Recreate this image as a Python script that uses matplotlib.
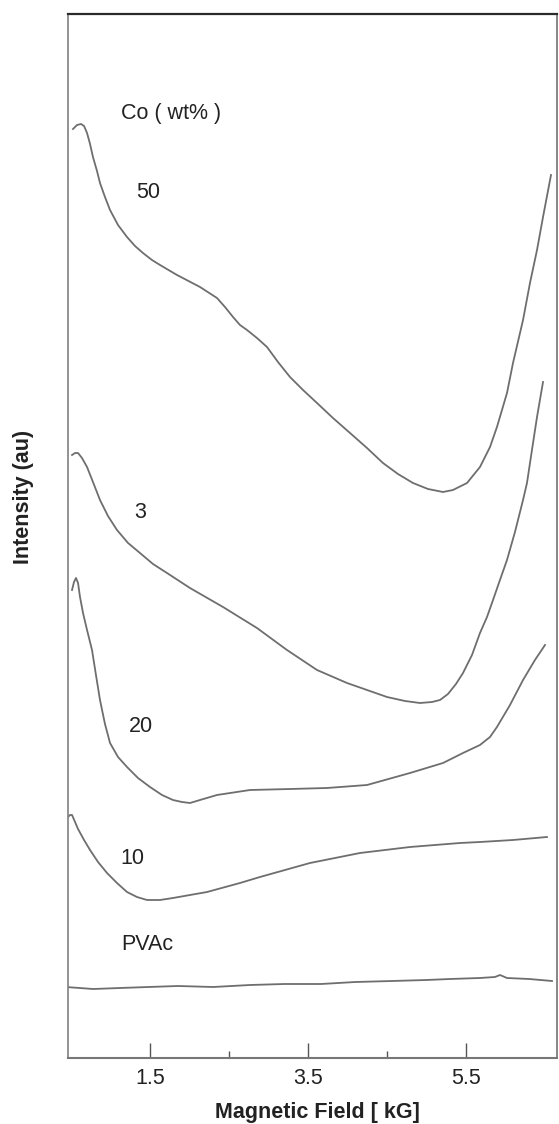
import matplotlib
matplotlib.use("Agg")
import matplotlib.pyplot as plt
from matplotlib.ticker import FixedLocator

plt.rcParams["font.family"] = ["Liberation Sans", "DejaVu Sans"]

# Spectra; field in kG, intensity in arbitrary units
field_50 = [0.525, 0.576, 0.627, 0.665, 0.703, 0.741, 0.778, 0.829, 0.867, 0.930,
            0.994, 1.095, 1.209, 1.310, 1.411, 1.525, 1.627, 1.842, 2.133, 2.348,
            2.449, 2.551, 2.639, 2.728, 2.854, 2.981, 3.120, 3.272, 3.437, 3.614,
            3.816, 4.032, 4.247, 4.449, 4.639, 4.829, 5.019, 5.209, 5.335, 5.513,
            5.677, 5.804, 5.892, 6.019, 6.095, 6.222, 6.310, 6.399, 6.475, 6.576]
int_50 = [929, 933, 934, 932, 925, 914, 901, 887, 875, 861,
          848, 833, 821, 812, 805, 798, 793, 783, 771, 760,
          751, 741, 733, 728, 720, 711, 696, 681, 668, 655,
          640, 625, 610, 595, 584, 575, 569, 566, 568, 575,
          591, 611, 631, 665, 695, 738, 775, 808, 841, 883]

field_3 = [0.513, 0.551, 0.589, 0.639, 0.703, 0.778, 0.867, 0.968, 1.082, 1.222,
           1.373, 1.538, 1.715, 2.006, 2.424, 2.854, 3.234, 3.614, 3.994, 4.247,
           4.500, 4.728, 4.918, 5.070, 5.171, 5.272, 5.373, 5.462, 5.576, 5.677,
           5.766, 5.842, 5.930, 6.019, 6.120, 6.222, 6.272, 6.335, 6.399, 6.475]
int_3 = [603, 605, 605, 600, 591, 576, 558, 542, 528, 515,
         505, 494, 485, 470, 451, 430, 408, 388, 375, 368,
         361, 357, 355, 356, 358, 364, 374, 385, 403, 425,
         441, 458, 478, 498, 526, 558, 575, 608, 641, 676]

field_20 = [0.513, 0.538, 0.563, 0.589, 0.614, 0.652, 0.703, 0.766, 0.816, 0.867,
            0.930, 0.994, 1.095, 1.209, 1.348, 1.500, 1.652, 1.791, 1.905, 2.006,
            2.133, 2.348, 2.766, 3.272, 3.741, 4.247, 4.791, 5.209, 5.462, 5.677,
            5.804, 5.892, 6.057, 6.222, 6.373, 6.500]
int_20 = [468, 476, 480, 475, 461, 445, 428, 408, 383, 358,
          334, 315, 301, 291, 280, 271, 263, 258, 256, 255,
          258, 263, 268, 269, 270, 273, 285, 295, 305, 313,
          321, 331, 353, 378, 398, 413]

field_10 = [0.462, 0.487, 0.513, 0.551, 0.589, 0.665, 0.741, 0.842, 0.956, 1.082,
            1.209, 1.335, 1.462, 1.627, 1.791, 2.006, 2.222, 2.639, 2.892, 3.525,
            4.158, 4.791, 5.424, 5.677, 6.095, 6.525]
int_10 = [241, 243, 243, 236, 229, 218, 208, 196, 185, 175,
          166, 161, 158, 158, 160, 163, 166, 175, 181, 195,
          205, 211, 215, 216, 218, 221]

field_pvac = [0.437, 0.780, 1.120, 1.480, 1.854, 2.300, 2.766, 3.200, 3.665, 4.100,
              4.563, 5.000, 5.297, 5.677, 5.867, 5.930, 6.019, 6.300, 6.589]
int_pvac = [71, 69, 70, 71, 72, 71, 73, 74, 74, 76,
            77, 78, 79, 80, 81, 83, 80, 79, 77]

curves = [(field_50, int_50), (field_3, int_3), (field_20, int_20),
          (field_10, int_10), (field_pvac, int_pvac)]

# labels next to each curve: (text, field, intensity)
curve_labels = [("Co ( wt% )", 1.766, 945), ("50", 1.475, 865), ("3", 1.373, 546),
                ("20", 1.386, 331), ("10", 1.272, 199), ("PVAc", 1.462, 113)]

major_ticks = [1.5, 3.5, 5.5]
minor_ticks = [2.5, 4.5]

fig = plt.figure(figsize=(5.59, 11.24), dpi=100)
ax = fig.add_axes([68 / 559, 66 / 1124, 489 / 559, 1044 / 1124])

for x, y in curves:
    ax.plot(x, y, color="#6e6e6e", linewidth=1.3, solid_joinstyle="round")

for text, x, y in curve_labels:
    ax.text(x, y, text, fontsize=15.5, color="#222222", ha="center", va="center")

ax.set_xlim(0.462, 6.652)
ax.set_ylim(0, 1044)

# Axes frame as in the scan.
ax.spines["top"].set_color("#2a2a2a")
ax.spines["top"].set_linewidth(1.6)
ax.spines["left"].set_color("#808080")
ax.spines["left"].set_linewidth(1.2)
ax.spines["bottom"].set_color("#777777")
ax.spines["bottom"].set_linewidth(1.5)
ax.spines["right"].set_color("#666666")
ax.spines["right"].set_linewidth(1.1)

ax.xaxis.set_major_locator(FixedLocator(major_ticks))
ax.xaxis.set_minor_locator(FixedLocator(minor_ticks))
ax.set_xticklabels(["1.5", "3.5", "5.5"])
ax.tick_params(axis="x", which="major", direction="in", length=11, width=1.0,
               color="#555555", labelsize=15.5, labelcolor="#222222", pad=7)
ax.tick_params(axis="x", which="minor", direction="in", length=5, width=1.0, color="#555555")
ax.set_yticks([])

ax.text(0.511, -0.052, "Magnetic Field [ kG]", transform=ax.transAxes, fontsize=15.5,
        fontweight="bold", color="#222222", ha="center", va="center")
ax.text(-0.092, 0.537, "Intensity (au)", transform=ax.transAxes, fontsize=15.5,
        fontweight="bold", color="#222222", ha="center", va="center", rotation=90)

fig.savefig("out.png", dpi=100)
